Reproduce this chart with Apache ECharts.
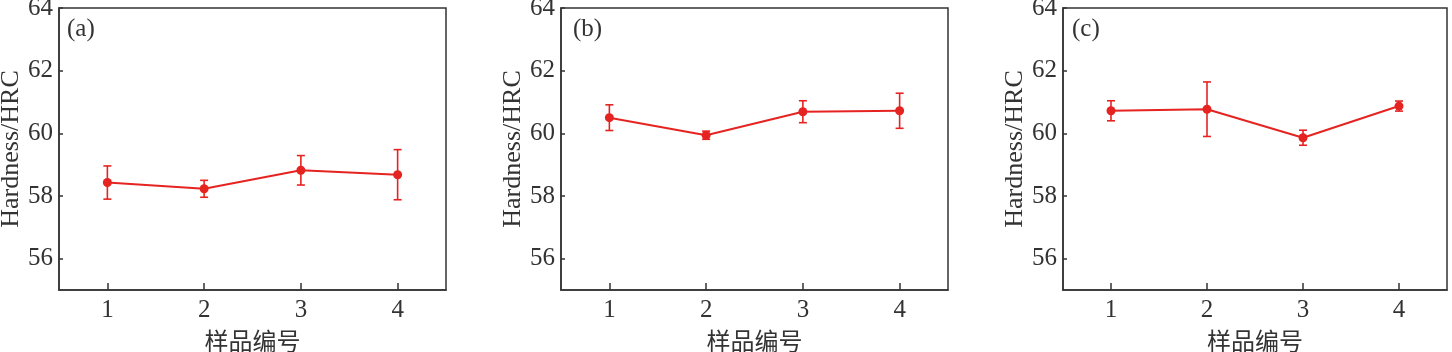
<!DOCTYPE html>
<html>
<head>
<meta charset="utf-8">
<script src="https://cdn.jsdelivr.net/npm/echarts@6/dist/echarts.min.js"></script>
<style>
  html, body { margin: 0; padding: 0; background: #fff; }
  #chart { width: 1452px; height: 352px; }
</style>
</head>
<body>
<div id="chart"></div>
<script>
// sample numbers on the x axis
const samples = [1, 2, 3, 4]
const yTicks = [56, 58, 60, 62, 64]
const panelLabels = ['(a)', '(b)', '(c)']

// mean hardness and error (half-length of bar)
const hardnessA = [58.43, 58.23, 58.82, 58.68]
const errorA = [0.53, 0.27, 0.47, 0.80]
const hardnessB = [60.50, 59.94, 60.69, 60.72]
const errorB = [0.41, 0.13, 0.35, 0.56]
const hardnessC = [60.72, 60.77, 59.86, 60.87]
const errorC = [0.32, 0.87, 0.24, 0.16]

const panels = [
  { values: hardnessA, errors: errorA },
  { values: hardnessB, errors: errorB },
  { values: hardnessC, errors: errorC },
]

const RED = '#e52421'
const AXIS = '#333'
const SERIF = '"Liberation Serif", "DejaVu Serif", serif'
const CJK = '"Noto Sans CJK SC", sans-serif'

// grid boxes for the three panels (labelDx = offset of the panel tag)
const gridBoxes = [
  { left: 59, top: 8, width: 387, height: 282, labelDx: 8 },
  { left: 561, top: 8, width: 387, height: 282, labelDx: 12 },
  { left: 1063, top: 8, width: 384, height: 282, labelDx: 9 },
]

const chart = echarts.init(document.getElementById('chart'), null, { renderer: 'canvas' })

const grid = gridBoxes.map((b) => ({
  left: b.left,
  top: b.top,
  width: b.width,
  height: b.height,
  show: true,
  borderColor: AXIS,
  borderWidth: 1.5,
  containLabel: false,
  outerBoundsMode: 'none',
}))

const xAxis = gridBoxes.map((_, i) => ({
  type: 'value',
  gridIndex: i,
  min: 0.5,
  max: 4.5,
  name: '样品编号',
  nameLocation: 'middle',
  nameGap: 39,
  nameTextStyle: { fontFamily: CJK, fontSize: 24, color: AXIS },
  axisLine: { show: true, onZero: false, lineStyle: { color: AXIS, width: 1.5 } },
  axisTick: { show: true, inside: true, length: 7, customValues: samples, lineStyle: { color: AXIS, width: 1.5 } },
  axisLabel: { customValues: samples, fontFamily: SERIF, fontSize: 25, color: AXIS, margin: 8 },
  splitLine: { show: false },
}))

const yAxis = gridBoxes.map((_, i) => ({
  type: 'value',
  gridIndex: i,
  min: 55,
  max: 64,
  name: 'Hardness/HRC',
  nameLocation: 'middle',
  nameGap: 32,
  nameTextStyle: { fontFamily: SERIF, fontSize: 26, color: AXIS },
  axisLine: { show: true, onZero: false, lineStyle: { color: AXIS, width: 1.5 } },
  axisTick: { show: true, inside: true, length: 4, customValues: yTicks, lineStyle: { color: AXIS, width: 1.5 } },
  axisLabel: { customValues: yTicks, fontFamily: SERIF, fontSize: 25, color: AXIS, margin: 6 },
  splitLine: { show: false },
}))

function errorBarItem(params, api) {
  const x = api.value(0)
  const lo = api.coord([x, api.value(1)])
  const hi = api.coord([x, api.value(2)])
  const cap = 4
  const style = { stroke: RED, lineWidth: 1.6 }
  return {
    type: 'group',
    children: [
      { type: 'line', shape: { x1: lo[0], y1: lo[1], x2: hi[0], y2: hi[1] }, style },
      { type: 'line', shape: { x1: lo[0] - cap, y1: lo[1], x2: lo[0] + cap, y2: lo[1] }, style },
      { type: 'line', shape: { x1: hi[0] - cap, y1: hi[1], x2: hi[0] + cap, y2: hi[1] }, style },
    ],
  }
}

const series = []
panels.forEach((p, i) => {
  series.push({
    type: 'custom',
    xAxisIndex: i,
    yAxisIndex: i,
    renderItem: errorBarItem,
    data: samples.map((s, k) => [s, p.values[k] - p.errors[k], p.values[k] + p.errors[k]]),
    z: 2,
    silent: true,
  })
  series.push({
    type: 'line',
    xAxisIndex: i,
    yAxisIndex: i,
    data: samples.map((s, k) => [s, p.values[k]]),
    symbol: 'circle',
    symbolSize: 9,
    lineStyle: { color: RED, width: 2 },
    itemStyle: { color: RED },
    z: 3,
    silent: true,
  })
})

const title = gridBoxes.map((b, i) => ({
  text: panelLabels[i],
  left: b.left + b.labelDx,
  top: 17,
  padding: 0,
  textStyle: { fontFamily: SERIF, fontSize: 25, fontWeight: 'normal', color: AXIS },
}))

chart.setOption({
  backgroundColor: '#fff',
  animation: false,
  title,
  grid,
  xAxis,
  yAxis,
  series,
})
</script>
</body>
</html>
